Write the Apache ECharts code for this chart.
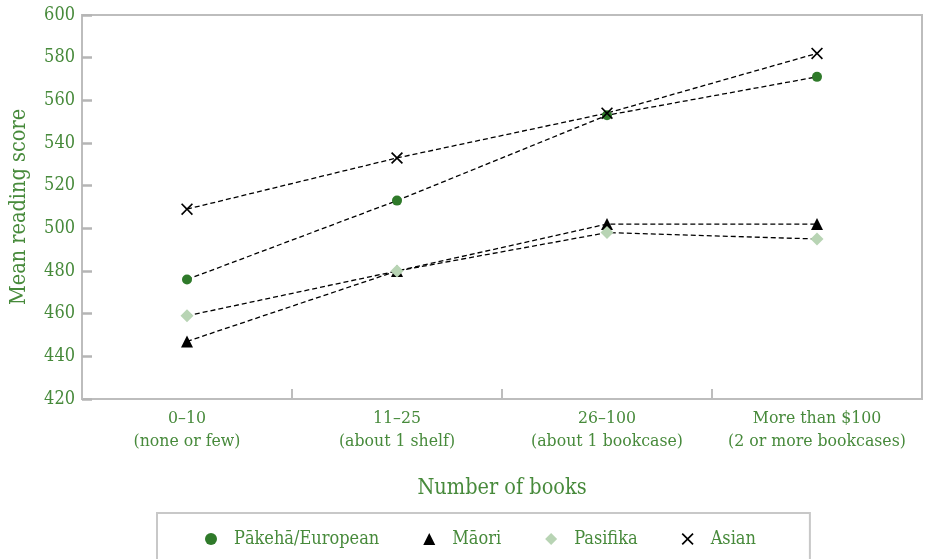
<!DOCTYPE html>
<html>
<head>
<meta charset="utf-8">
<script src="https://cdn.jsdelivr.net/npm/echarts@6/dist/echarts.min.js"></script>
<style>
  html, body { margin: 0; padding: 0; background: #fff; }
  #chart { width: 928px; height: 559px; }
</style>
</head>
<body>
<div id="chart"></div>
<script>
  const categories = ['0–10\n(none or few)', '11–25\n(about 1 shelf)', '26–100\n(about 1 bookcase)', 'More than $100\n(2 or more bookcases)']
  const pakeha = [476, 513, 553, 571]
  const maori = [447, 480, 502, 502]
  const pasifika = [459, 480, 498, 495]
  const asian = [509, 533, 554, 582]
  const yTicks = { min: 420, max: 600, interval: 20 }

  const textGreen = '#478a3b'
  const font = 'DejaVu Serif Condensed, DejaVu Serif'
  const crossPath = 'path://M1,0L5,4L9,0L10,1L6,5L10,9L9,10L5,6L1,10L0,9L4,5L0,1Z'
  const dash = { color: '#000', width: 1.3, type: [5, 3] }

  function makeSeries (name, data, symbol, color, size) {
    return {
      name: name,
      type: 'line',
      data: data,
      symbol: symbol,
      symbolSize: size,
      itemStyle: { color: color },
      lineStyle: dash,
      z: 2
    }
  }

  const option = {
    animation: false,
    textStyle: { fontFamily: font },
    grid: { left: 82, right: 6, top: 15, bottom: 160, outerBoundsMode: 'none', containLabel: false, show: true, borderColor: '#bdbdbd', borderWidth: 2 },
    legend: {
      left: 157,
      top: 513,
      padding: [17, 54, 40, 48],
      borderColor: '#c8c8c8',
      borderWidth: 2,
      itemGap: 44,
      itemWidth: 12,
      itemHeight: 12,
      textStyle: { color: textGreen, fontSize: 18, fontFamily: font, padding: [0, 0, 0, 12] },
      data: [
        { name: 'Pākehā/European', icon: 'circle' },
        { name: 'Māori', icon: 'triangle' },
        { name: 'Pasifika', icon: 'diamond' },
        { name: 'Asian', icon: crossPath }
      ]
    },
    xAxis: {
      type: 'category',
      data: categories,
      name: 'Number of books',
      nameLocation: 'middle',
      nameGap: 78,
      nameTextStyle: { color: textGreen, fontSize: 21.5, fontFamily: font },
      axisLine: { lineStyle: { color: '#bdbdbd', width: 2 } },
      axisTick: { show: true, interval: 0, inside: true, length: 10, lineStyle: { color: '#bdbdbd', width: 2 } },
      axisLabel: { interval: 0, color: textGreen, fontSize: 17.5, lineHeight: 23, margin: 8, fontFamily: font }
    },
    yAxis: {
      type: 'value',
      min: yTicks.min,
      max: yTicks.max,
      interval: yTicks.interval,
      name: 'Mean reading score',
      nameLocation: 'middle',
      nameGap: 52,
      nameTextStyle: { color: textGreen, fontSize: 21.5, fontFamily: font },
      axisLine: { show: true, lineStyle: { color: '#bdbdbd', width: 2 } },
      axisTick: { show: true, inside: true, length: 10, lineStyle: { color: '#b5b5b5', width: 2.5 } },
      splitLine: { show: false },
      axisLabel: { color: textGreen, fontSize: 18, margin: 7, fontFamily: font }
    },
    series: [
      makeSeries('Pākehā/European', pakeha, 'circle', '#2f7a2a', 10),
      makeSeries('Māori', maori, 'triangle', '#000', 12),
      makeSeries('Pasifika', pasifika, 'diamond', '#b8d4b4', 13),
      makeSeries('Asian', asian, crossPath, '#000', 12)
    ]
  }

  const chart = echarts.init(document.getElementById('chart'))
  chart.setOption(option)
</script>
</body>
</html>
